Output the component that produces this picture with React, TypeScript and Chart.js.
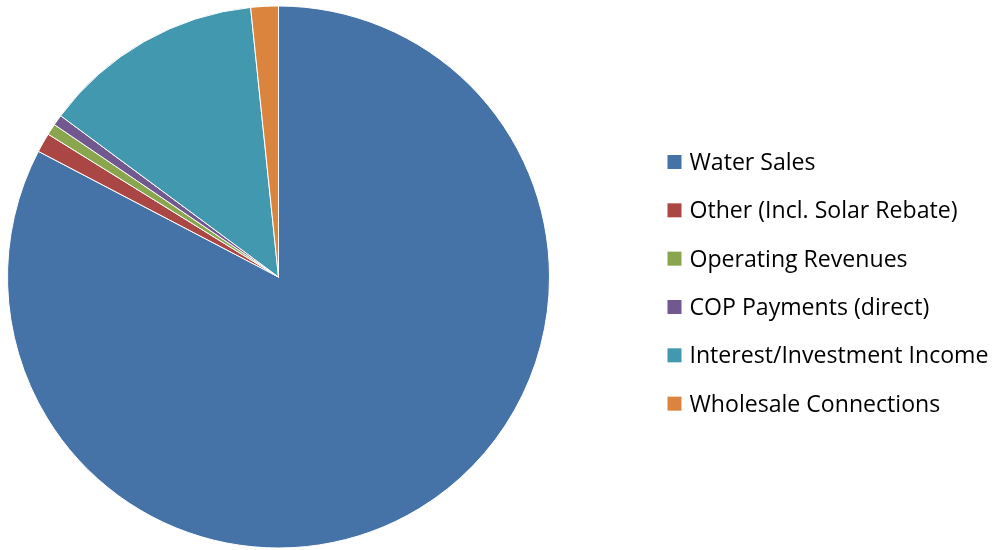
import React, { useEffect, useRef } from "react";
import { Chart, registerables } from "chart.js";

Chart.register(...registerables);

const categories = [
  "Water Sales",
  "Other (Incl. Solar Rebate)",
  "Operating Revenues",
  "COP Payments (direct)",
  "Interest/Investment Income",
  "Wholesale Connections",
];
const shares = [82.68, 1.16, 0.67, 0.64, 13.22, 1.64];
const colors = ["#4572A7", "#AA4643", "#89A54E", "#71588F", "#4198AF", "#DB843D"];

const legendPlugin = {
  id: "sideLegend",
  afterDraw(chart: any) {
    const ctx = chart.ctx as CanvasRenderingContext2D;
    const labels = chart.data.labels as string[];
    const bg = chart.data.datasets[0].backgroundColor as string[];
    const x0 = 667.5;
    const y0 = 155;
    const step = 48.33;
    const box = 14;
    ctx.save();
    ctx.font = "23.1px 'Open Sans'";
    ctx.textBaseline = "alphabetic";
    ctx.textAlign = "left";
    labels.forEach((lab, i) => {
      const y = y0 + i * step;
      ctx.fillStyle = bg[i];
      ctx.fillRect(x0, y, box, box);
      ctx.fillStyle = "#000000";
      ctx.fillText(lab, 689.5, y + 15);
    });
    ctx.restore();
  },
};

export default function App() {
  const ref = useRef<HTMLCanvasElement | null>(null);
  useEffect(() => {
    document.body.style.margin = "0";
    const canvas = ref.current;
    if (!canvas) return;
    const chart = new Chart(canvas, {
      type: "pie",
      data: {
        labels: categories,
        datasets: [
          {
            data: shares,
            backgroundColor: colors,
            borderColor: "#ffffff",
            borderWidth: 1,
            hoverOffset: 0,
          },
        ],
      },
      options: {
        responsive: false,
        animation: false,
        devicePixelRatio: 1,
        layout: { padding: { left: 7, right: 448, top: 5.5, bottom: 1.5 } },
        plugins: {
          legend: { display: false },
          tooltip: { enabled: false },
        },
      },
      plugins: [legendPlugin],
    });
    return () => chart.destroy();
  }, []);
  return (
    <div style={{ position: "absolute", left: 0, top: 0, width: 998, height: 550, background: "#fff" }}>
      <canvas ref={ref} width={998} height={550} style={{ width: 998, height: 550, display: "block" }} />
    </div>
  );
}
